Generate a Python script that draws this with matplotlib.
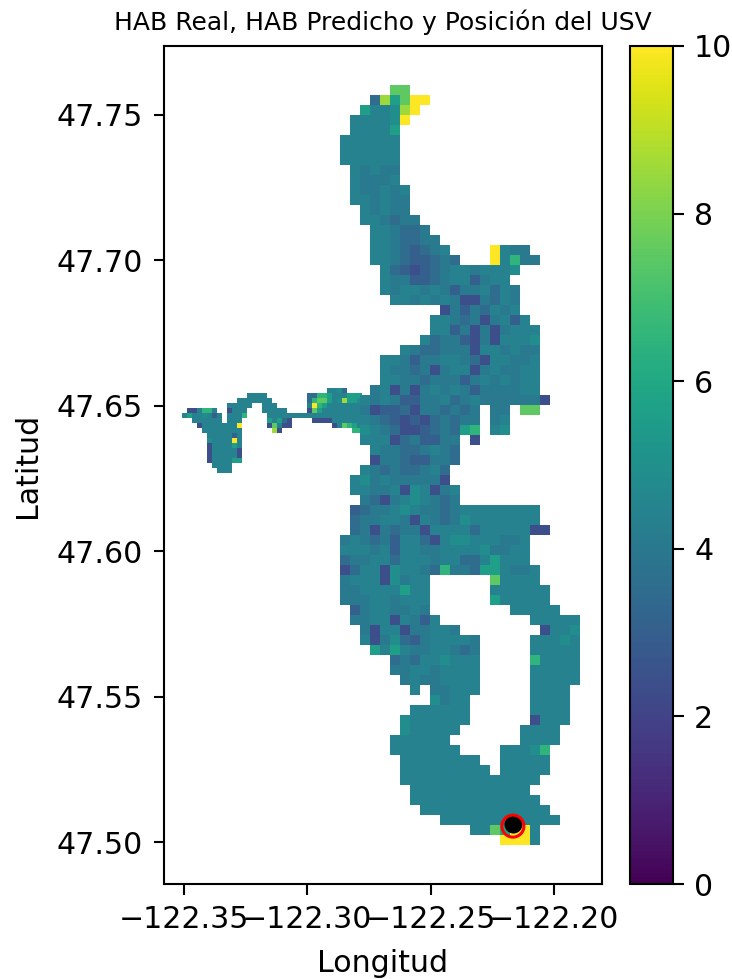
# Filename: plot.py
import matplotlib
matplotlib.use("Agg")
import matplotlib.pyplot as plt
import numpy as np

# HAB level of each cell, one letter per cell, '.' means no water
LEVELS = {'a': 2.4, 'b': 3.0, 'c': 3.5, 'd': 4.1, 'e': 4.4, 'f': 4.9,
          'g': 5.6, 'h': 6.5, 'i': 7.5, 'j': 8.5, 'k': 10.0}

# Main lake body, north to south
main_lon_start = -122.2908
main_lon_step = 0.00405
main_lat_start = 47.7603
main_lat_step = 0.00344
main_rows = [
    "......ii",
    "....cjgikk",
    "...geefjk",
    "..eeeefk",
    "..eeeeg",
    ".eeeeee",
    ".eeeeee",
    ".eeeeee",
    "..ededd",
    "..eddde",
    "..eddede",
    "..eededd",
    "...ededd",
    "...eedcdd",
    "....eedccd",
    "....eedccdd",
    "....eedcbcde....kedd",
    "....eedcbbcdc...kehdd",
    ".....ecbabcdeedeeef",
    ".....eddbbcdeebdee",
    ".....edeededbddeced",
    "......eededed" + "aadced",
    "...........adbdcede",
    "..........eedcdadebe",
    "..........eebdadadeee",
    ".........ecddbadaeeef",
    ".......edccdddaeededd",
    ".....eedbddeedcaeedde",
    ".....eddcdadeeadeddee",
    ".....eeddcdddbdededee",
    "....deadadededbddddee",
    "...ededbbddecdedddddda",
    "...dabbcaddcdcd.dd.ii",
    "...edcbabacdcdd.de",
    "...fedcaabcdcgh.ef",
    "...eeeacdbbdd.a",
    "....eddccdedc",
    "....addcbbddc",
    "...edcdccdec",
    "..efdeddddda",
    "..eeddeafeade",
    "...dcadefedcd",
    "..bcddefeddcdeeeeeeee",
    "..cddeedaedcdfeeeeeee",
    "..cdadcddaeeeeceeeeeaa",
    ".dedcdbeecaeffeeedde",
    ".eeedebeeddeeeefddee",
    ".cddeeceeedeeccegeee",
    ".aceeafeedchddcggedde",
    ".deeeafdee......ieeee",
    ".ddeeeegee......eeeeee",
    ".dddeedeee......geeeee",
    "..bdeedded........eeeee",
    "..ddeeaedbe.........eeeee",
    "...daeeaddeed........aeef",
    "...eadfcbdeeeed.....eeefe",
    "....gegeddeedcd.....eeeee",
    "......cdceefeee.....heeee",
    "......ddeedeeee.....eeeee",
    ".......deddeeee.....eeeee",
    "........e.ddeee.....eeee",
    "..........fdee......eeee",
    "........eeeeee......eeee",
    ".......feeeeee......aeee",
    ".......feeeee......eeee",
    "......eeeeee.......eeee",
    "......eeeeeee....eeefh",
    ".......eeeeeeee..eeeee",
    ".......eeeeeeeee.eeeee",
    ".......eeeeeeeeeeeeee",
    "........eeeeeeeeeeee",
    "........eeeeeeeeeeeee",
    ".........eeeeeeeeeeeee",
    "...........eeeeeeeeeeee",
    "..............eeigkkee"[:-1],
    ".................kkke",
]

# Narrow western arm, sampled on a finer grid
arm_lon_start = -122.3508
arm_lon_step = 0.002027
arm_lat_start = 47.6561
arm_lat_step = 0.00172
arm_rows = [
    ".............................eefc",
    ".............eeee........cchhgeeeggg",
    "...........eeeeeee.......chiigefjggf",
    ".........eeeee..eee......ekhgeeeeeee",
    ".aaehhe..aeee...eeeee....aigeeeeeeee",
    "egeefebe.eeeh....eeeeeeeeeeeeeeeeeee",
    "..eeeeee.eee.....gegca....aaaaeeeeee",
    "...aeeeeeeek.....aieaa........aeihge",
    "....eeeeeeee......ja..............hh",
    ".....eeeeebe",
    ".....feeeeke",
    ".....aeeeege",
    ".....aeeeeea",
    ".....aeeeeea",
    ".....aeeeegg",
    "......eeee",
    ".......eee",
]

# Position of the USV and of the ring drawn around it
usv_lon = [-122.2167]
usv_lat = [47.5062]
ring_lon = [-122.2167]
ring_lat = [47.5055]

x_ticks = [-122.35, -122.30, -122.25, -122.20]
y_ticks = [47.50, 47.55, 47.60, 47.65, 47.70, 47.75]


# Turn the letter rows into a masked array of levels
def rows_to_grid(rows):
    width = max(len(r) for r in rows)
    grid = np.full((len(rows), width), np.nan)
    for i, row in enumerate(rows):
        for j, ch in enumerate(row):
            if ch in LEVELS:
                grid[i, j] = LEVELS[ch]
    return np.ma.masked_invalid(grid)


def draw_grid(ax, rows, lon_start, lon_step, lat_start, lat_step):
    grid = rows_to_grid(rows)
    lons = lon_start + lon_step * np.arange(grid.shape[1] + 1)
    lats = lat_start - lat_step * np.arange(grid.shape[0] + 1)
    return ax.pcolormesh(lons, lats, grid, cmap='viridis', vmin=0, vmax=10)


plt.rcParams['axes.linewidth'] = 0.7
plt.rcParams['xtick.major.width'] = 0.7
plt.rcParams['ytick.major.width'] = 0.7

W, H = 732, 979
fig = plt.figure(figsize=(W / 216, H / 216), dpi=216)
ax = fig.add_axes([164 / W, 1 - 884 / H, 438 / W, 838 / H])
cax = fig.add_axes([630 / W, 1 - 884 / H, 43 / W, 838 / H])

draw_grid(ax, arm_rows, arm_lon_start, arm_lon_step, arm_lat_start, arm_lat_step)
mesh = draw_grid(ax, main_rows, main_lon_start, main_lon_step, main_lat_start, main_lat_step)

# USV marker with the red ring around it
ax.scatter(usv_lon, usv_lat, s=25, color='black', zorder=5)
ax.scatter(ring_lon, ring_lat, s=54, facecolors='none', edgecolors='red', linewidths=1.0, zorder=6)

ax.set_xlim(-122.3581, -122.1806)
ax.set_ylim(47.4856, 47.7737)
ax.set_xticks(x_ticks)
ax.set_yticks(y_ticks)
ax.set_xlabel('Longitud', labelpad=5)
ax.set_ylabel('Latitud', labelpad=5)
ax.set_title('HAB Real, HAB Predicho y Posición del USV', fontsize=8.34, pad=5.3)

fig.colorbar(mesh, cax=cax)

fig.savefig('out.png', dpi=216)
